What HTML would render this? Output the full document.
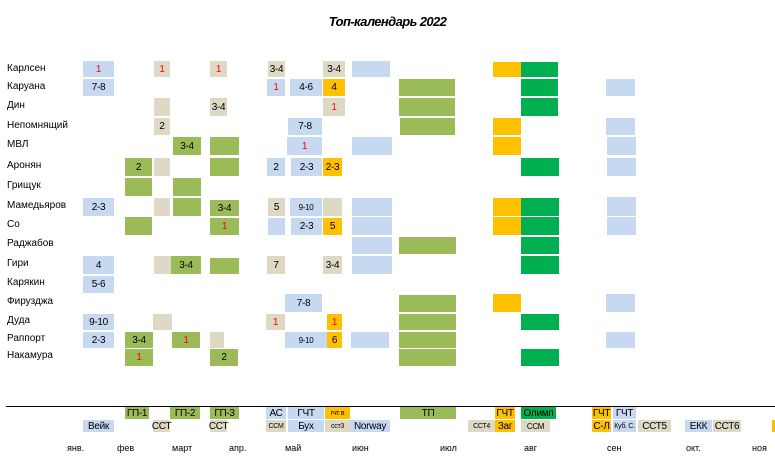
<!DOCTYPE html>
<html><head><meta charset="utf-8"><style>
body{margin:0;width:775px;height:460px;background:#fff;position:relative;overflow:hidden;font-family:"Liberation Sans",sans-serif;color:#000}
.c{position:absolute;font-size:10px;display:flex;align-items:center;justify-content:center;letter-spacing:-0.3px}
.grid .c{border-top:1px solid #fff;box-sizing:border-box}
.b{background:#c6d9f1}.t{background:#ddd9c4}.g{background:#9bbb59}.o{background:#ffc000}.d{background:#00b050}
.r{color:#f00}.s{font-size:8px}
.n{position:absolute;left:7px;font-size:10px;line-height:18px}
.m{position:absolute;top:443px;font-size:9px}
</style></head><body>
<div style="position:absolute;left:0;width:775px;top:14px;text-align:center;font-size:13px;font-weight:bold;font-style:italic;letter-spacing:-0.6px">Топ-календарь 2022</div>

<div class="n" style="top:60px">Карлсен</div>
<div class="n" style="top:78px">Каруана</div>
<div class="n" style="top:97px">Дин</div>
<div class="n" style="top:117px">Непомнящий</div>
<div class="n" style="top:136px">МВЛ</div>
<div class="n" style="top:157px">Аронян</div>
<div class="n" style="top:177px">Грищук</div>
<div class="n" style="top:197px">Мамедьяров</div>
<div class="n" style="top:216px">Со</div>
<div class="n" style="top:235px">Раджабов</div>
<div class="n" style="top:255px">Гири</div>
<div class="n" style="top:274px">Карякин</div>
<div class="n" style="top:293px">Фирузджа</div>
<div class="n" style="top:312px">Дуда</div>
<div class="n" style="top:330px">Раппорт</div>
<div class="n" style="top:347px">Накамура</div>

<div class="grid">
<div class="c b r" style="left:83px;top:60px;width:31px;height:17px">1</div>
<div class="c t r" style="left:154px;top:60px;width:16px;height:17px">1</div>
<div class="c t r" style="left:210px;top:60px;width:17px;height:17px">1</div>
<div class="c t" style="left:268px;top:60px;width:17px;height:17px">3-4</div>
<div class="c t" style="left:323px;top:60px;width:22px;height:17px">3-4</div>
<div class="c b" style="left:352px;top:60px;width:38px;height:17px"></div>
<div class="c o" style="left:493px;top:61px;width:28px;height:16px"></div>
<div class="c d" style="left:521px;top:61px;width:37px;height:16px"></div>

<div class="c b" style="left:83px;top:78px;width:31px;height:18px">7-8</div>
<div class="c b r" style="left:267px;top:78px;width:18px;height:18px">1</div>
<div class="c b" style="left:290px;top:78px;width:32px;height:18px">4-6</div>
<div class="c o" style="left:323px;top:78px;width:22px;height:18px">4</div>
<div class="c g" style="left:399px;top:78px;width:56px;height:18px"></div>
<div class="c d" style="left:521px;top:78px;width:37px;height:18px"></div>
<div class="c b" style="left:606px;top:78px;width:29px;height:18px"></div>

<div class="c t" style="left:154px;top:97px;width:16px;height:19px"></div>
<div class="c t" style="left:210px;top:97px;width:17px;height:19px">3-4</div>
<div class="c t r" style="left:323px;top:97px;width:22px;height:19px">1</div>
<div class="c g" style="left:399px;top:97px;width:56px;height:19px"></div>
<div class="c d" style="left:521px;top:97px;width:37px;height:19px"></div>

<div class="c t" style="left:154px;top:117px;width:16px;height:18px">2</div>
<div class="c b" style="left:288px;top:117px;width:34px;height:18px">7-8</div>
<div class="c g" style="left:400px;top:117px;width:55px;height:18px"></div>
<div class="c o" style="left:493px;top:117px;width:28px;height:18px"></div>
<div class="c b" style="left:606px;top:117px;width:29px;height:18px"></div>

<div class="c g" style="left:173px;top:136px;width:28px;height:19px">3-4</div>
<div class="c g" style="left:210px;top:136px;width:29px;height:19px"></div>
<div class="c b r" style="left:287px;top:136px;width:35px;height:19px">1</div>
<div class="c b" style="left:352px;top:136px;width:40px;height:19px"></div>
<div class="c o" style="left:493px;top:136px;width:28px;height:19px"></div>
<div class="c b" style="left:607px;top:136px;width:29px;height:19px"></div>

<div class="c g" style="left:125px;top:157px;width:27px;height:19px">2</div>
<div class="c t" style="left:154px;top:157px;width:16px;height:19px"></div>
<div class="c g" style="left:210px;top:157px;width:29px;height:19px"></div>
<div class="c b" style="left:267px;top:157px;width:18px;height:19px">2</div>
<div class="c b" style="left:291px;top:157px;width:31px;height:19px">2-3</div>
<div class="c o" style="left:323px;top:157px;width:19px;height:19px">2-3</div>
<div class="c d" style="left:521px;top:157px;width:38px;height:19px"></div>
<div class="c b" style="left:607px;top:157px;width:29px;height:19px"></div>

<div class="c g" style="left:125px;top:177px;width:27px;height:19px"></div>
<div class="c g" style="left:173px;top:177px;width:28px;height:19px"></div>

<div class="c b" style="left:83px;top:197px;width:31px;height:19px">2-3</div>
<div class="c t" style="left:154px;top:197px;width:16px;height:19px"></div>
<div class="c g" style="left:173px;top:197px;width:28px;height:19px"></div>
<div class="c g" style="left:210px;top:199px;width:29px;height:17px">3-4</div>
<div class="c t" style="left:268px;top:197px;width:17px;height:19px">5</div>
<div class="c b s" style="left:290px;top:197px;width:32px;height:19px">9-10</div>
<div class="c t" style="left:323px;top:197px;width:19px;height:19px"></div>
<div class="c b" style="left:352px;top:197px;width:40px;height:19px"></div>
<div class="c o" style="left:493px;top:197px;width:28px;height:19px"></div>
<div class="c d" style="left:521px;top:197px;width:38px;height:19px"></div>
<div class="c b" style="left:607px;top:196px;width:29px;height:20px"></div>

<div class="c g" style="left:125px;top:216px;width:27px;height:19px"></div>
<div class="c g r" style="left:210px;top:217px;width:29px;height:18px">1</div>
<div class="c b" style="left:268px;top:217px;width:17px;height:18px"></div>
<div class="c b" style="left:291px;top:217px;width:31px;height:18px">2-3</div>
<div class="c o" style="left:323px;top:217px;width:19px;height:18px">5</div>
<div class="c b" style="left:352px;top:216px;width:40px;height:19px"></div>
<div class="c o" style="left:493px;top:216px;width:28px;height:19px"></div>
<div class="c d" style="left:521px;top:216px;width:38px;height:19px"></div>
<div class="c b" style="left:607px;top:216px;width:29px;height:19px"></div>

<div class="c b" style="left:352px;top:236px;width:40px;height:18px"></div>
<div class="c g" style="left:399px;top:236px;width:57px;height:18px"></div>
<div class="c d" style="left:521px;top:236px;width:38px;height:18px"></div>

<div class="c b" style="left:83px;top:255px;width:31px;height:19px">4</div>
<div class="c t" style="left:154px;top:255px;width:17px;height:19px"></div>
<div class="c g" style="left:171px;top:255px;width:30px;height:19px">3-4</div>
<div class="c g" style="left:210px;top:257px;width:29px;height:17px"></div>
<div class="c t" style="left:267px;top:255px;width:18px;height:19px">7</div>
<div class="c t" style="left:323px;top:255px;width:19px;height:19px">3-4</div>
<div class="c b" style="left:352px;top:255px;width:40px;height:19px"></div>
<div class="c d" style="left:521px;top:255px;width:38px;height:19px"></div>

<div class="c b" style="left:83px;top:275px;width:31px;height:18px">5-6</div>

<div class="c b" style="left:285px;top:293px;width:37px;height:19px">7-8</div>
<div class="c g" style="left:399px;top:294px;width:57px;height:18px"></div>
<div class="c o" style="left:493px;top:293px;width:28px;height:19px"></div>
<div class="c b" style="left:606px;top:293px;width:29px;height:19px"></div>

<div class="c b" style="left:83px;top:313px;width:31px;height:17px">9-10</div>
<div class="c t" style="left:153px;top:313px;width:19px;height:17px"></div>
<div class="c t r" style="left:266px;top:313px;width:19px;height:17px">1</div>
<div class="c o r" style="left:327px;top:313px;width:15px;height:17px">1</div>
<div class="c g" style="left:399px;top:313px;width:57px;height:17px"></div>
<div class="c d" style="left:521px;top:313px;width:38px;height:17px"></div>

<div class="c b" style="left:83px;top:331px;width:31px;height:17px">2-3</div>
<div class="c g" style="left:125px;top:331px;width:28px;height:17px">3-4</div>
<div class="c g r" style="left:172px;top:331px;width:28px;height:17px">1</div>
<div class="c t" style="left:210px;top:331px;width:14px;height:17px"></div>
<div class="c b s" style="left:285px;top:331px;width:42px;height:17px">9-10</div>
<div class="c o" style="left:327px;top:331px;width:15px;height:17px">6</div>
<div class="c b" style="left:351px;top:331px;width:38px;height:17px"></div>
<div class="c g" style="left:399px;top:331px;width:57px;height:17px"></div>
<div class="c b" style="left:606px;top:331px;width:29px;height:17px"></div>

<div class="c g r" style="left:125px;top:348px;width:28px;height:18px">1</div>
<div class="c g" style="left:210px;top:348px;width:28px;height:18px">2</div>
<div class="c g" style="left:399px;top:348px;width:57px;height:18px"></div>
<div class="c d" style="left:521px;top:348px;width:38px;height:18px"></div>
</div>

<div style="position:absolute;left:6px;top:406px;width:769px;height:1px;background:#000"></div>
<div class="c g" style="left:125px;top:407px;width:24px;height:12px">ГП-1</div>
<div class="c g" style="left:170px;top:407px;width:30px;height:12px">ГП-2</div>
<div class="c g" style="left:210px;top:407px;width:29px;height:12px">ГП-3</div>
<div class="c b" style="left:266px;top:407px;width:20px;height:12px">АС</div>
<div class="c b" style="left:288px;top:407px;width:36px;height:12px">ГЧТ</div>
<div class="c o" style="left:325px;top:407px;width:25px;height:12px;font-size:7px">гчт в</div>
<div class="c g" style="left:400px;top:407px;width:56px;height:12px">ТП</div>
<div class="c o" style="left:495px;top:407px;width:20px;height:12px">ГЧТ</div>
<div class="c d" style="left:521px;top:407px;width:35px;height:12px">Олимп</div>
<div class="c o" style="left:592px;top:407px;width:19px;height:12px">ГЧТ</div>
<div class="c b" style="left:613px;top:407px;width:23px;height:12px">ГЧТ</div>

<div class="c b" style="left:83px;top:420px;width:31px;height:12px">Вейк</div>
<div class="c t" style="left:153px;top:420px;width:17px;height:12px">ССТ</div>
<div class="c t" style="left:210px;top:420px;width:17px;height:12px">ССТ</div>
<div class="c t" style="left:266px;top:420px;width:20px;height:12px;font-size:7px">ССМ</div>
<div class="c b" style="left:288px;top:420px;width:36px;height:12px">Бух</div>
<div class="c t" style="left:325px;top:420px;width:25px;height:12px;font-size:7px">сст3</div>
<div class="c b" style="left:350px;top:420px;width:40px;height:12px">Norway</div>
<div class="c t" style="left:468px;top:420px;width:27px;height:12px;font-size:7px">ССТ4</div>
<div class="c o" style="left:495px;top:420px;width:20px;height:12px">Заг</div>
<div class="c t" style="left:521px;top:420px;width:29px;height:12px;font-size:8px">ССМ</div>
<div class="c o" style="left:592px;top:420px;width:19px;height:12px">С-Л</div>
<div class="c b" style="left:613px;top:420px;width:23px;height:12px;font-size:7px">Куб. С.</div>
<div class="c t" style="left:638px;top:420px;width:33px;height:12px">ССТ5</div>
<div class="c b" style="left:685px;top:420px;width:27px;height:12px">ЕКК</div>
<div class="c t" style="left:713px;top:420px;width:28px;height:12px">ССТ6</div>
<div class="c o" style="left:772px;top:420px;width:4px;height:12px"></div>

<div class="m" style="left:67px">янв.</div>
<div class="m" style="left:117px">фев</div>
<div class="m" style="left:172px">март</div>
<div class="m" style="left:229px">апр.</div>
<div class="m" style="left:285px">май</div>
<div class="m" style="left:352px">июн</div>
<div class="m" style="left:440px">июл</div>
<div class="m" style="left:524px">авг</div>
<div class="m" style="left:607px">сен</div>
<div class="m" style="left:686px">окт.</div>
<div class="m" style="left:752px">ноя</div>
</body></html>
